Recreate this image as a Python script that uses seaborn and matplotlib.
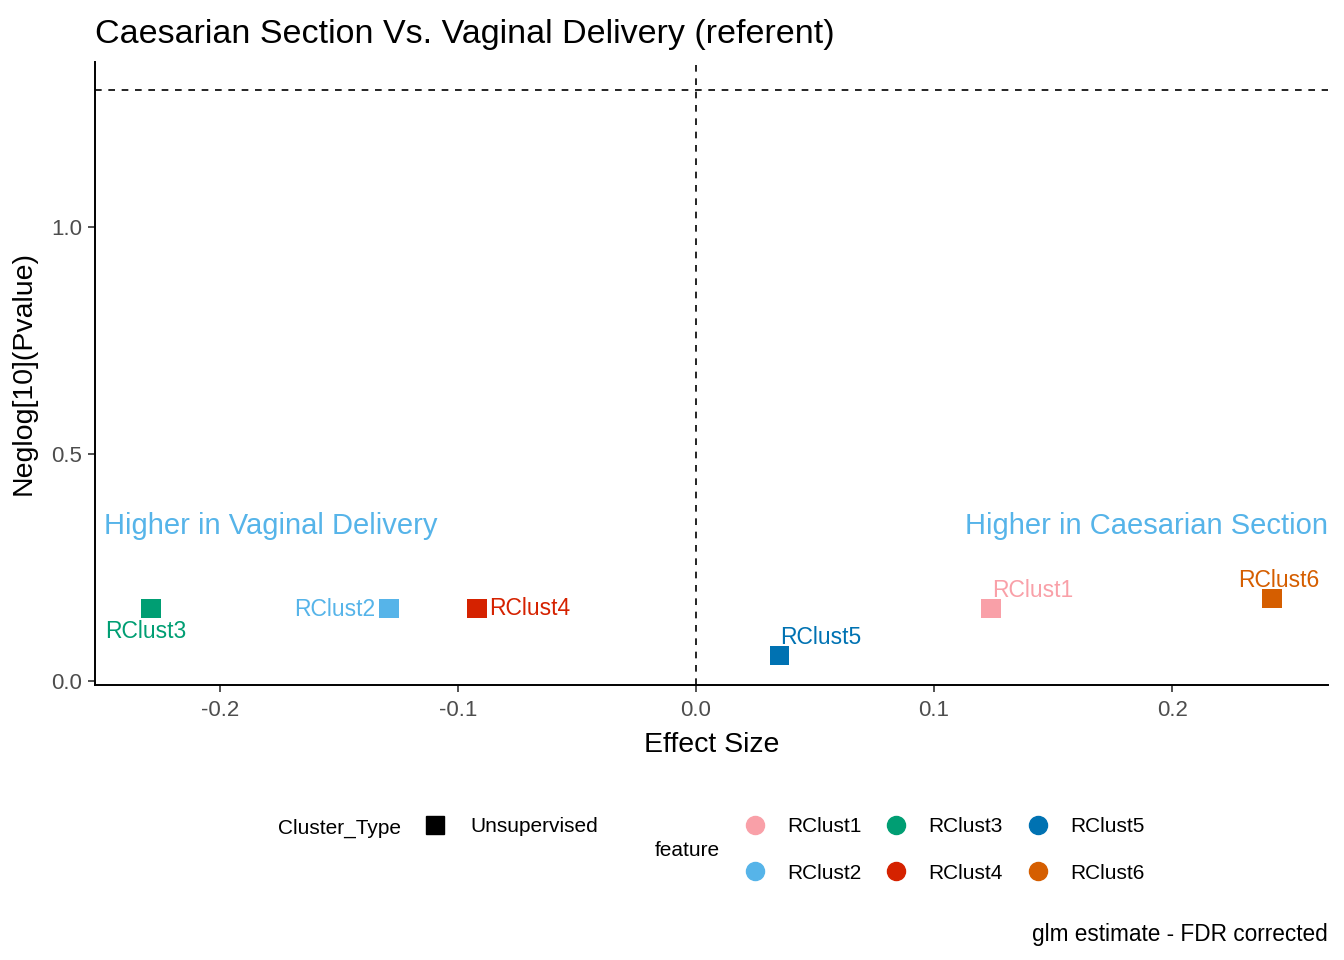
import numpy as np
import pandas as pd
import seaborn as sns
from matplotlib import pyplot as plt
from matplotlib.lines import Line2D

# values
features = ["RClust1", "RClust2", "RClust3", "RClust4", "RClust5", "RClust6"]
effect_size = [0.124, -0.129, -0.229, -0.092, 0.035, 0.242]
neglog_p = [0.161, 0.161, 0.161, 0.161, 0.057, 0.183]
cluster_type = ["Unsupervised"] * 6
colors = ["#F9A0A8", "#56B4E9", "#009E73", "#D52200", "#0072B2", "#D55E00"]
sig_line = 1.301

df = pd.DataFrame({"feature": features, "effect": effect_size,
                   "neglog": neglog_p, "Cluster_Type": cluster_type})
palette = dict(zip(features, colors))

sns.set_theme(style="white")
plt.rcParams['font.family'] = ['Liberation Sans', 'DejaVu Sans']
plt.rcParams['text.color'] = 'black'

fig = plt.figure(figsize=(13.44, 9.6), dpi=100)
ax = fig.add_axes([0.0707, 0.2865, 0.9174, 0.6489])

sns.scatterplot(data=df, x="effect", y="neglog", hue="feature", palette=palette,
                marker="s", s=195, linewidth=0, legend=False, ax=ax, zorder=3)

ax.axhline(sig_line, color="black", linestyle=(0, (4, 4)), linewidth=1.2)
ax.axvline(0, color="black", linestyle=(0, (4, 4)), linewidth=1.2)

# label offsets in points (dx, dy, ha)
offsets = {
    "RClust1": (0.5, 13, "left"),
    "RClust2": (-10, -1, "right"),
    "RClust3": (-3.5, -16.5, "center"),
    "RClust4": (9, -0.5, "left"),
    "RClust5": (0.5, 13, "left"),
    "RClust6": (4.5, 13, "center"),
}
for f, xv, yv in zip(features, effect_size, neglog_p):
    dx, dy, ha = offsets[f]
    ax.annotate(f, (xv, yv), xytext=(dx, dy), textcoords="offset points",
                ha=ha, va="center", fontsize=16.5, color=palette[f])

ax.text(0.007, 0.341, "Higher in Vaginal Delivery", transform=ax.get_yaxis_transform(),
        ha="left", va="center", fontsize=21, color="#56B4E9")
ax.text(1.0, 0.341, "Higher in Caesarian Section", transform=ax.get_yaxis_transform(),
        ha="right", va="center", fontsize=21, color="#56B4E9")

ax.set_xlim(-0.2525, 0.2655)
ax.set_ylim(-0.0077, 1.363)
ax.set_xticks([-0.2, -0.1, 0.0, 0.1, 0.2])
ax.set_yticks([0.0, 0.5, 1.0])
ax.set_xticklabels(["-0.2", "-0.1", "0.0", "0.1", "0.2"])
ax.set_yticklabels(["0.0", "0.5", "1.0"])
ax.tick_params(axis="both", which="both", direction="out", length=5, width=1.2,
               color="#333333", labelsize=16, labelcolor="#4D4D4D",
               bottom=True, left=True)
ax.tick_params(axis="x", pad=6)
ax.tick_params(axis="y", pad=4.5)
for side in ["top", "right"]:
    ax.spines[side].set_visible(False)
for side in ["left", "bottom"]:
    ax.spines[side].set_color("black")
    ax.spines[side].set_linewidth(1.4)

ax.set_xlabel("Effect Size", fontsize=20.5, color="black", labelpad=8)
ax.set_ylabel("Neglog[10](Pvalue)", fontsize=20.5, color="black", labelpad=10)
ax.set_title("Caesarian Section Vs. Vaginal Delivery (referent)", loc="left",
             fontsize=24.5, color="black", pad=14)

# legends
fig.text(278 / 1344, 1 - 828 / 960, "Cluster_Type", fontsize=15, ha="left", va="center")
type_handles = [Line2D([], [], marker="s", color="black", linestyle="", markersize=13)]
fig.legend(type_handles, ["Unsupervised"], loc="center left",
           bbox_to_anchor=(424.6 / 1344, 1 - 827 / 960), frameon=False, fontsize=15,
           handlelength=1.0, handletextpad=1.18, borderpad=0, borderaxespad=0)

fig.text(655 / 1344, 1 - 850 / 960, "feature", fontsize=15, ha="left", va="center")
feat_handles = [Line2D([], [], marker="o", color=palette[f], linestyle="", markersize=13)
                for f in features]
fig.legend(feat_handles, features, loc="center left", ncol=3,
           bbox_to_anchor=(745 / 1344, 1 - 850 / 960), frameon=False, fontsize=15,
           handlelength=1.0, handletextpad=1.05, columnspacing=1.15, labelspacing=1.32,
           borderpad=0, borderaxespad=0)

fig.text(1328 / 1344, 1 - 934 / 960, "glm estimate - FDR corrected", fontsize=16.3,
         ha="right", va="center")

fig.savefig("out.png", dpi=100)
